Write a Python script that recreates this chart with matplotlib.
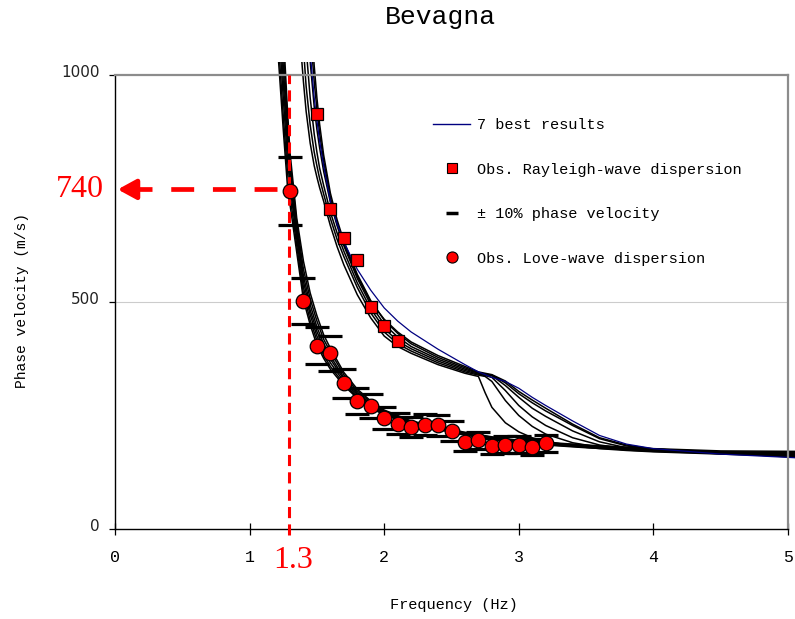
import matplotlib
matplotlib.use("Agg")
import matplotlib.pyplot as plt
from matplotlib.patches import Rectangle
from matplotlib.lines import Line2D
import matplotlib.transforms as mtransforms

plt.rcParams['lines.scale_dashes'] = False

# ---------------- data ----------------
ray_obs_f = [1.5, 1.6, 1.7, 1.8, 1.9, 2.0, 2.1]
ray_obs_v = [915, 704, 642, 592, 490, 447, 414]

love_obs_f = [1.3, 1.4, 1.5, 1.6, 1.7, 1.8, 1.9, 2.0, 2.1, 2.2, 2.3, 2.4, 2.5,
              2.6, 2.7, 2.8, 2.9, 3.0, 3.1, 3.2]
love_obs_v = [744, 502, 404, 387, 321, 282, 271, 245, 232, 225, 230, 228, 216,
              192, 195, 183, 186, 186, 180, 189]
err_frac = 0.10

ray_f = [1.36, 1.38, 1.40, 1.42, 1.45, 1.48, 1.50, 1.52, 1.55, 1.60, 1.65, 1.70,
         1.80, 1.90, 2.00, 2.10, 2.20, 2.40, 2.60, 2.70, 2.75, 2.80, 2.90, 3.00,
         3.10, 3.20, 3.40, 3.60, 3.80, 4.00, 4.50, 5.05]
ray_blue = [1650, 1500, 1350, 1200, 1050, 950, 900, 855, 800, 722, 672, 632,
            572, 526, 487, 458, 434, 396, 362, 346, 340, 334, 325, 310,
            290, 272, 238, 206, 187, 177, 165, 157]
ray_a = [1140, 1060, 985, 920, 850, 800, 775, 752, 722, 668, 622, 582,
         516, 465, 425, 402, 387, 362, 343, 336, 300, 268, 234, 214,
         201, 193, 183, 177, 173, 170, 165, 160]
ray_b = [1300, 1170, 1060, 975, 890, 830, 800, 772, 738, 684, 638, 600,
         532, 476, 434, 408, 392, 366, 346, 339, 336, 325, 283, 250,
         226, 209, 190, 180, 174, 171, 166, 162]
ray_c = [1450, 1300, 1170, 1060, 950, 870, 830, 795, 757, 698, 652, 612,
         542, 485, 442, 414, 397, 370, 349, 341, 338, 334, 305, 272,
         247, 228, 201, 185, 177, 172, 167, 164]
ray_d = [1600, 1450, 1300, 1170, 1030, 930, 880, 840, 788, 720, 668, 624,
         552, 494, 451, 423, 402, 374, 352, 343, 340, 338, 316, 290,
         266, 248, 216, 192, 179, 173, 167, 165]
ray_e = [1800, 1650, 1480, 1330, 1150, 1020, 950, 892, 824, 740, 681, 634,
         561, 503, 460, 431, 408, 378, 355, 344, 341, 339, 322, 298,
         278, 260, 228, 199, 183, 175, 168, 166]
ray_g = [1700, 1550, 1400, 1260, 1100, 985, 925, 872, 810, 730, 674, 628,
         557, 500, 462, 434, 412, 382, 358, 346, 343, 340, 326, 303,
         284, 266, 231, 201, 185, 176, 169, 168]

love_f = [1.16, 1.18, 1.20, 1.22, 1.25, 1.28, 1.30, 1.35, 1.40, 1.45, 1.50, 1.55,
          1.60, 1.70, 1.80, 1.90, 2.00, 2.20, 2.40, 2.60, 2.80, 3.00, 3.50, 4.00,
          4.50, 5.05]
love_1 = [1350, 1200, 1095, 1010, 880, 760, 715, 610, 505, 450, 405, 376,
          352, 316, 288, 267, 251, 231, 219, 207, 197, 189, 179, 172, 167, 162]
love_2 = [1400, 1250, 1140, 1045, 910, 790, 735, 625, 518, 460, 415, 383,
          358, 320, 290, 269, 253, 232, 220, 208, 198, 190, 180, 173, 168, 165]
love_3 = [1460, 1310, 1190, 1090, 950, 820, 757, 640, 532, 472, 425, 392,
          366, 325, 293, 271, 254, 233, 221, 209, 199, 191, 181, 174, 169, 167]
love_4 = [1520, 1370, 1240, 1130, 985, 850, 775, 652, 545, 482, 435, 400,
          374, 330, 297, 274, 256, 234, 222, 210, 200, 192, 182, 175, 166, 160]
love_5 = [1570, 1420, 1290, 1170, 1020, 875, 795, 663, 557, 494, 445, 408,
          381, 334, 300, 276, 258, 235, 223, 211, 201, 193, 183, 176, 168, 158]
love_6 = [1630, 1480, 1340, 1215, 1060, 900, 812, 675, 572, 507, 458, 418,
          390, 340, 304, 279, 260, 236, 224, 212, 202, 194, 184, 176, 170, 169]
love_7 = [1700, 1550, 1400, 1260, 1100, 930, 830, 685, 590, 520, 470, 428,
          398, 345, 308, 282, 262, 238, 225, 213, 203, 195, 185, 177, 172, 171]

pick_f = 1.29
pick_v = 748
pick_f_label = "1.3"
pick_v_label = "740"

x_ticks = [0, 1, 2, 3, 4, 5]
y_ticks = [0, 500, 1000]

title = "Bevagna"
xlabel = "Frequency (Hz)"
ylabel = "Phase velocity (m/s)"
legend_labels = ["7 best results", "Obs. Rayleigh-wave dispersion",
                 "\u00b1 10% phase velocity", "Obs. Love-wave dispersion"]

# ---------------- figure ----------------
W, H = 795, 619
fig = plt.figure(figsize=(W / 100, H / 100), dpi=100)
L, R, T, B = 115, 788, 75, 529
ax = fig.add_axes([L / W, 1 - B / H, (R - L) / W, (B - T) / H])
ax.set_xlim(0, 5)
ax.set_ylim(0, 1000)

mono = 'Liberation Mono'
serif = 'Liberation Serif'

clip = Rectangle((0, 0), 1.012, 1.029, transform=ax.transAxes,
                 facecolor='none', edgecolor='none')
ax.add_patch(clip)

blk = dict(color='black', lw=1.1, solid_joinstyle='round')
for v in [love_1, love_2, love_3, love_4, love_5, love_6, love_7]:
    ln, = ax.plot(love_f, v, **blk)
    ln.set_clip_path(clip)
for v in [ray_a, ray_b, ray_c, ray_d, ray_e, ray_g]:
    ln, = ax.plot(ray_f, v, **blk)
    ln.set_clip_path(clip)
ln, = ax.plot(ray_f, ray_blue, color='#000080', lw=0.9)
ln.set_clip_path(clip)

# +-10% dashes
up = [v * (1 + err_frac) for v in love_obs_v]
dn = [v * (1 - err_frac) for v in love_obs_v]
ax.plot(love_obs_f, up, ls='none', marker='_', ms=17, mew=2.3, color='black', zorder=4)
ax.plot(love_obs_f, dn, ls='none', marker='_', ms=17, mew=2.3, color='black', zorder=4)

ax.plot(ray_obs_f, ray_obs_v, ls='none', marker='s', ms=8.5, mfc='red',
        mec='black', mew=0.9, zorder=5)
ax.plot(love_obs_f, love_obs_v, ls='none', marker='o', ms=10.5, mfc='red',
        mec='black', mew=0.9, zorder=5)

# red guide lines
ax.plot([pick_f, pick_f], [-13, 1000], color='red', lw=2.2, dashes=(8, 4.5),
        clip_on=False, zorder=3)
ax.plot([1.204, 0.134], [pick_v, pick_v], color='red', lw=3.4,
        dashes=(16.5, 13.5), clip_on=False, zorder=3)
ax.annotate('', xy=(0.02, pick_v), xytext=(0.15, pick_v),
            arrowprops=dict(arrowstyle='-|>,head_length=0.55,head_width=0.3',
                            color='red', lw=3.4, mutation_scale=20,
                            shrinkA=0, shrinkB=0),
            annotation_clip=False, zorder=3)
ax.text(-0.082, pick_v, pick_v_label, color='red', fontsize=23,
        family=serif, ha='right', va='center', clip_on=False)
fig.text(293 / W, 1 - 561 / H, pick_f_label, color='red', fontsize=23,
         family=serif, ha='center', va='center')

# axes styling
for s in ['top', 'right']:
    ax.spines[s].set_color('#8c8c8c')
    ax.spines[s].set_linewidth(1.6)
for s in ['left', 'bottom']:
    ax.spines[s].set_color('black')
    ax.spines[s].set_linewidth(1.0)
ax.axhline(500, color='#cccccc', lw=0.8, zorder=0)

ax.set_xticks(x_ticks)
ax.set_xticklabels([str(t) for t in x_ticks], family=mono, fontsize=12)
ax.set_yticks(y_ticks)
ax.set_yticklabels([str(t) for t in y_ticks], family='DejaVu Sans',
                   fontsize=11, color='#222222')
ax.tick_params(axis='x', direction='inout', length=8.6, width=0.9, pad=11)
ax.tick_params(axis='y', direction='out', length=4.5, width=0.9, pad=6.5)
off = mtransforms.ScaledTranslation(0, 4 / 100, fig.dpi_scale_trans)
for lab in ax.get_yticklabels():
    lab.set_transform(lab.get_transform() + off)

fig.text(440 / W, 1 - 17 / H, title, family=mono, fontsize=19,
         ha='center', va='center')
fig.text(454 / W, 1 - 605 / H, xlabel, family=mono, fontsize=11,
         ha='center', va='center')
fig.text(22 / W, 1 - 300 / H, ylabel, family=mono, fontsize=10.5,
         ha='center', va='center', rotation=90)

handles = [
    Line2D([], [], color='#000080', lw=1.0),
    Line2D([], [], ls='none', marker='s', ms=7, mfc='red', mec='black', mew=0.8),
    Line2D([], [], ls='none', marker='_', ms=9, mew=2.5, color='black'),
    Line2D([], [], ls='none', marker='o', ms=8, mfc='red', mec='black', mew=0.8),
]
ax.legend(handles, legend_labels, loc='upper left',
          bbox_to_anchor=((433 - L) / (R - L), (B - 118) / (B - T)),
          frameon=False, borderpad=0, borderaxespad=0, handlelength=2.45,
          handletextpad=0.45, labelspacing=2.0,
          prop={'family': mono, 'size': 11})

fig.savefig('out.png', dpi=100)
